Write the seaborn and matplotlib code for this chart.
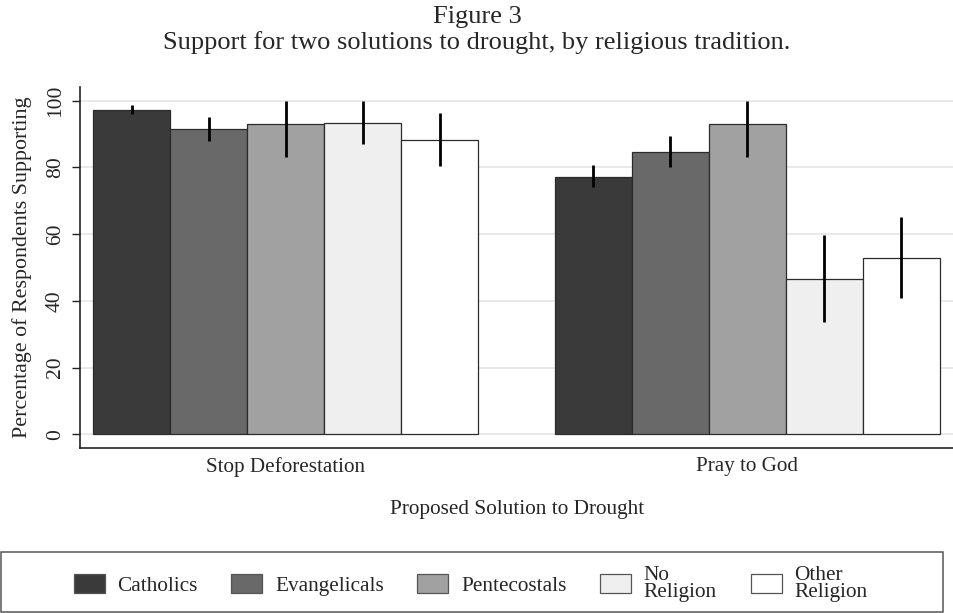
import matplotlib
matplotlib.use("Agg")
import matplotlib.pyplot as plt
from matplotlib.patches import Patch, Rectangle
import numpy as np
import pandas as pd
import seaborn as sns

# Survey results: share of respondents supporting each solution, with 95% CI bounds
solutions = ["Stop Deforestation", "Pray to God"]
traditions = ["Catholics", "Evangelicals", "Pentecostals", "No Religion", "Other Religion"]
legend_labels = ["Catholics", "Evangelicals", "Pentecostals", "No\nReligion", "Other\nReligion"]

stop_deforestation = [97.2, 91.4, 93.0, 93.4, 88.2]
stop_deforestation_lo = [96.0, 88.0, 83.0, 87.0, 80.5]
stop_deforestation_hi = [98.7, 95.2, 100.0, 100.0, 96.2]

pray_to_god = [77.2, 84.7, 92.9, 46.6, 52.9]
pray_to_god_lo = [74.0, 80.0, 83.0, 33.7, 40.8]
pray_to_god_hi = [80.7, 89.4, 100.0, 59.7, 65.2]

colors = ["#3a3a3a", "#696969", "#a1a1a1", "#efefef", "#ffffff"]

rows = []
for i, t in enumerate(traditions):
    rows.append((solutions[0], t, stop_deforestation[i], stop_deforestation_lo[i], stop_deforestation_hi[i]))
    rows.append((solutions[1], t, pray_to_god[i], pray_to_god_lo[i], pray_to_god_hi[i]))
df = pd.DataFrame(rows, columns=["solution", "tradition", "pct", "lo", "hi"])

sns.set_theme(style="white")
plt.rcParams["font.family"] = ["Liberation Serif", "DejaVu Serif"]

W, H = 954, 613
fig = plt.figure(figsize=(W / 100, H / 100), dpi=100)
ax_left, ax_right, ax_top, ax_bottom = 80, 953, 86.7, 447.7
ax = fig.add_axes([ax_left / W, 1 - ax_bottom / H,
                   (ax_right - ax_left) / W, (ax_bottom - ax_top) / H])

sns.barplot(data=df, x="solution", y="pct", hue="tradition",
            order=solutions, hue_order=traditions, palette=colors,
            width=5 / 6, errorbar=None, edgecolor="#2b2b2b", linewidth=0.9,
            legend=False, ax=ax, zorder=2)

# confidence intervals at each bar centre
for container, t in zip(ax.containers, traditions):
    sub = df[df.tradition == t].set_index("solution").loc[solutions]
    xs = [b.get_x() + b.get_width() / 2 for b in container]
    ax.vlines(xs, sub["lo"].values, sub["hi"].values, colors="black",
              linewidth=2.0, zorder=3)

ax.set_xlim(-0.445, 1.445)
ax.set_ylim(-4.0, 104.2)
ax.set_yticks([0, 20, 40, 60, 80, 100])
ax.yaxis.grid(True, color="#e7e7e7", linewidth=1.3, zorder=0)
ax.xaxis.grid(False)
ax.set_axisbelow(True)

for s in ["top", "right"]:
    ax.spines[s].set_visible(False)
for s in ["left", "bottom"]:
    ax.spines[s].set_color("#222222")
    ax.spines[s].set_linewidth(1.2)

ax.tick_params(axis="y", which="both", left=True, length=6, width=1.0,
               color="#222222", labelsize=15.5, pad=5)
ax.tick_params(axis="x", bottom=False, length=0, labelsize=15.2, pad=7)
for lab in ax.get_yticklabels():
    lab.set_rotation(90)
    lab.set_va("center")

ax.set_ylabel("Percentage of Respondents Supporting", fontsize=15.8, labelpad=10)
ax.set_xlabel("Proposed Solution to Drought", fontsize=15.3)
ax.xaxis.label.set_va("baseline")
ax.xaxis.set_label_coords(0.5 - (ax_left + ax_right - 2 * 517.5) / 2 / (ax_right - ax_left),
                          -(514 - ax_bottom) / (ax_bottom - ax_top))

fig.text(0.5, 1 - 23.5 / H, "Figure 3", ha="center", va="baseline", fontsize=19)
fig.text(0.5, 1 - 49 / H, "Support for two solutions to drought, by religious tradition.",
         ha="center", va="baseline", fontsize=19)

# legend panel
fig.patches.append(Rectangle((0.5 / W, 1 - 611.7 / H), 942.5 / W, 59.4 / H,
                             transform=fig.transFigure, facecolor="white",
                             edgecolor="#555555", linewidth=1.1))
handles = [Patch(facecolor=c, edgecolor="#555555", linewidth=0.9) for c in colors]
leg = fig.legend(handles, legend_labels, loc="center",
                 bbox_to_anchor=(470.5 / W, 1 - 584 / H),
                 ncol=5, frameon=False, fontsize=15.3, handlelength=1.46,
                 handleheight=1.03, handletextpad=0.6, columnspacing=1.58,
                 borderpad=0, borderaxespad=0)
for t in leg.get_texts():
    t.set_linespacing(0.85)

fig.savefig("out.png", dpi=100, facecolor="white")
